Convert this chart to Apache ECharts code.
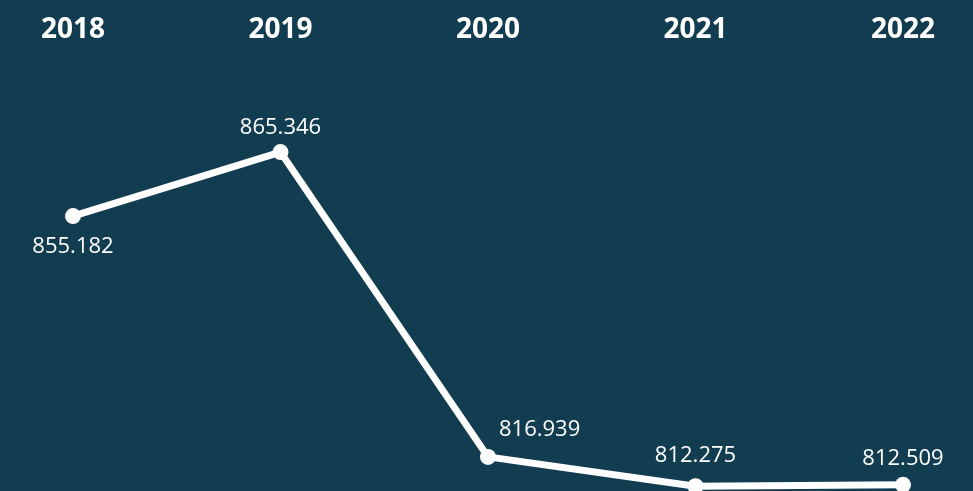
<!DOCTYPE html>
<html>
<head>
<meta charset="utf-8">
<script src="https://cdn.jsdelivr.net/npm/echarts@6/dist/echarts.min.js"></script>
<style>
  html, body { margin: 0; padding: 0; background: #123d50; }
  #chart { width: 973px; height: 491px; }
</style>
</head>
<body>
<div id="chart"></div>
<script>
// Yearly values shown on the line
const years = ['2018', '2019', '2020', '2021', '2022'];
const values = [855.182, 865.346, 816.939, 812.275, 812.509];
// Where each value label sits relative to its point
const labelPlacement = ['bottom', 'top', 'right', 'top', 'top'];
const labelDistance = [12, 5, 0, 12, 7];

const fmt = v => v.toFixed(3);

const chart = echarts.init(document.getElementById('chart'), null, { renderer: 'canvas' });

chart.setOption({
  backgroundColor: '#123d50',
  animation: false,
  grid: { left: 73, right: 70, top: 148, bottom: 3 },
  xAxis: {
    type: 'category',
    data: years,
    position: 'top',
    boundaryGap: false,
    axisLine: { show: false },
    axisTick: { show: false },
    splitLine: { show: false },
    axisLabel: {
      color: '#ffffff',
      fontFamily: 'Open Sans',
      fontWeight: 'bold',
      fontSize: 28,
      margin: 104
    }
  },
  yAxis: {
    type: 'value',
    min: 812,
    max: 866,
    show: false,
    splitLine: { show: false }
  },
  series: [{
    type: 'line',
    data: values.map((v, i) => ({
      value: v,
      label: labelPlacement[i] === 'right'
        ? { position: 'right', offset: [-2, -27] }
        : { position: labelPlacement[i], distance: labelDistance[i] }
    })),
    clip: false,
    symbol: 'circle',
    symbolSize: 16,
    lineStyle: { color: '#ffffff', width: 7 },
    itemStyle: { color: '#ffffff' },
    label: {
      show: true,
      color: '#ffffff',
      fontFamily: 'Open Sans',
      fontSize: 22,
      formatter: p => fmt(p.value)
    }
  }]
});
</script>
</body>
</html>
